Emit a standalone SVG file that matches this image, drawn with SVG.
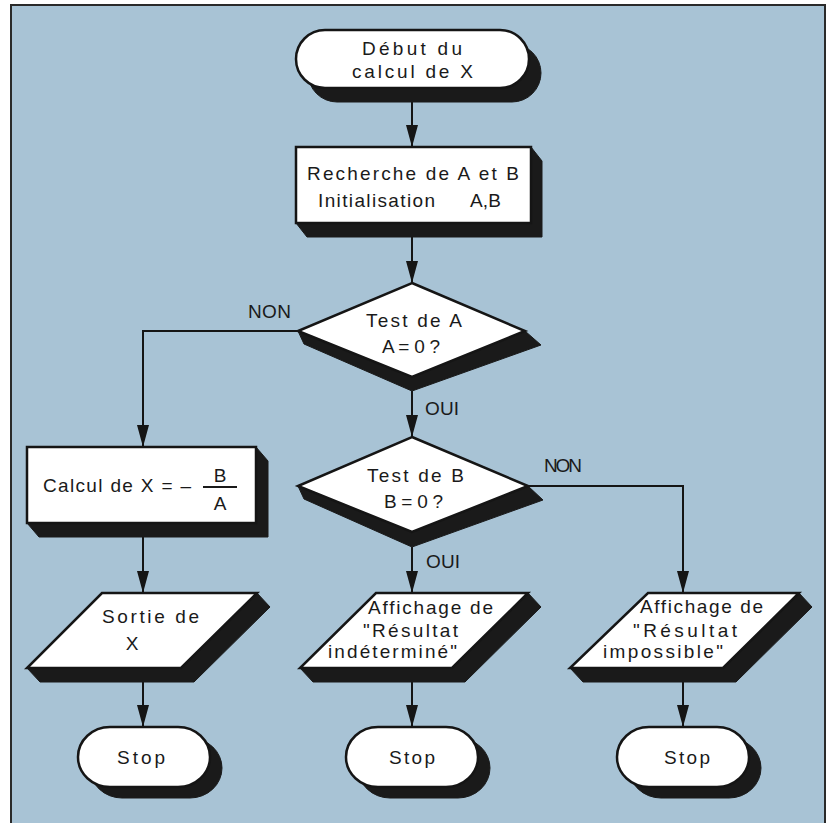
<svg xmlns="http://www.w3.org/2000/svg" width="832" height="823" viewBox="0 0 832 823">
<defs>
<style>
.nd{fill:#ffffff;stroke:#151515;stroke-width:2.5}
.sh{fill:#1a1a1a;stroke:#1a1a1a;stroke-width:1}
.t{font-family:"Liberation Sans",Arial,sans-serif;font-size:19px;fill:#1a1a1a}
.c{fill:none;stroke:#151515;stroke-width:2}
</style>
<marker id="ah" markerWidth="22" markerHeight="12" refX="22" refY="6" orient="auto" markerUnits="userSpaceOnUse">
<path d="M0,0 L22,6 L0,12 z" fill="#151515"/>
</marker>
</defs>
<rect x="0" y="0" width="832" height="823" fill="#ffffff"/>
<rect x="11" y="5" width="814" height="830" fill="#a8c3d5" stroke="#2a2a2a" stroke-width="2"/>

<g id="connectors">
<path class="c" d="M412,102 V147" marker-end="url(#ah)"/>
<path class="c" d="M412,237 V283" marker-end="url(#ah)"/>
<path class="c" d="M298,331 H143 V447" marker-end="url(#ah)"/>
<path class="c" d="M412,391 V437" marker-end="url(#ah)"/>
<path class="c" d="M143,537 V593" marker-end="url(#ah)"/>
<path class="c" d="M412,547 V593" marker-end="url(#ah)"/>
<path class="c" d="M528,486 H683 V593" marker-end="url(#ah)"/>
<path class="c" d="M143,682 V727" marker-end="url(#ah)"/>
<path class="c" d="M412,682 V727" marker-end="url(#ah)"/>
<path class="c" d="M683,682 V727" marker-end="url(#ah)"/>
<text class="t" x="248" y="318" textLength="43" lengthAdjust="spacing">NON</text>
<text class="t" x="425" y="415" textLength="34" lengthAdjust="spacing">OUI</text>
<text class="t" x="544" y="472" textLength="38" lengthAdjust="spacing">NON</text>
<text class="t" x="426" y="568" textLength="34" lengthAdjust="spacing">OUI</text>
</g>

<g id="start">
<rect class="sh" x="308" y="44" width="233" height="58" rx="29"/>
<rect class="nd" x="296" y="30" width="233" height="58" rx="29"/>
<text class="t" x="362" y="55" textLength="100" lengthAdjust="spacing">Début du</text>
<text class="t" x="352" y="78" textLength="121" lengthAdjust="spacing">calcul de X</text>
</g>

<g id="recherche">
<polygon class="sh" points="531,147 542,161 542,237 307,237 296,223"/>
<rect class="nd" x="296" y="147" width="235" height="76"/>
<text class="t" x="307" y="180" textLength="212" lengthAdjust="spacing">Recherche de A et B</text>
<text class="t" x="318" y="207" textLength="117" lengthAdjust="spacing">Initialisation</text>
<text class="t" x="470" y="207" textLength="31" lengthAdjust="spacing">A,B</text>
</g>

<g id="testA">
<polygon class="sh" points="298,331 304,344 412,391 541,345 525,331"/>
<polygon class="nd" points="412,283 525,331 412,377 298,331"/>
<text class="t" x="366" y="327" textLength="96" lengthAdjust="spacing">Test de A</text>
<text class="t" x="382" y="353" textLength="58" lengthAdjust="spacing">A = 0 ?</text>
</g>

<g id="testB">
<polygon class="sh" points="298,486 304,499 412,547 543,500 528,486"/>
<polygon class="nd" points="412,437 528,486 412,532 298,486"/>
<text class="t" x="367" y="482" textLength="97" lengthAdjust="spacing">Test de B</text>
<text class="t" x="384" y="508" textLength="59" lengthAdjust="spacing">B = 0 ?</text>
</g>

<g id="calcul">
<polygon class="sh" points="256,447 268,461 268,537 39,537 27,523"/>
<rect class="nd" x="27" y="447" width="229" height="76"/>
<text class="t" x="43" y="492" textLength="148" lengthAdjust="spacing">Calcul de X = –</text>
<text class="t" x="220" y="482" text-anchor="middle">B</text>
<line x1="203" y1="487" x2="237" y2="487" stroke="#1a1a1a" stroke-width="1.8"/>
<text class="t" x="220" y="510" text-anchor="middle">A</text>
</g>

<g id="sortie">
<polygon class="sh" points="257,593 270,607 194,682 40,682 27,668"/>
<polygon class="nd" points="102,593 257,593 181,668 27,668"/>
<text class="t" x="102" y="623" textLength="97" lengthAdjust="spacing">Sortie de</text>
<text class="t" x="132" y="650" text-anchor="middle">X</text>
</g>

<g id="indetermine">
<polygon class="sh" points="528,593 541,607 465,682 313,682 300,668"/>
<polygon class="nd" points="376,593 528,593 452,668 300,668"/>
<text class="t" x="368" y="614" textLength="125" lengthAdjust="spacing">Affichage de</text>
<text class="t" x="363" y="637" textLength="95" lengthAdjust="spacing">"Résultat</text>
<text class="t" x="328" y="658" textLength="129" lengthAdjust="spacing">indéterminé"</text>
</g>

<g id="impossible">
<polygon class="sh" points="799,593 812,607 736,682 583,682 570,668"/>
<polygon class="nd" points="648,593 799,593 723,668 570,668"/>
<text class="t" x="640" y="613" textLength="123" lengthAdjust="spacing">Affichage de</text>
<text class="t" x="633" y="637" textLength="104" lengthAdjust="spacing">"Résultat</text>
<text class="t" x="603" y="658" textLength="120" lengthAdjust="spacing">impossible"</text>
</g>

<g id="stop1">
<rect class="sh" x="90" y="738" width="132" height="60" rx="32" ry="30"/>
<rect class="nd" x="78" y="727" width="132" height="60" rx="32" ry="30"/>
<text class="t" x="117" y="764" textLength="48" lengthAdjust="spacing">Stop</text>
</g>
<g id="stop2">
<rect class="sh" x="358" y="738" width="132" height="60" rx="32" ry="30"/>
<rect class="nd" x="346" y="727" width="132" height="60" rx="32" ry="30"/>
<text class="t" x="389" y="764" textLength="46" lengthAdjust="spacing">Stop</text>
</g>
<g id="stop3">
<rect class="sh" x="629" y="738" width="132" height="60" rx="32" ry="30"/>
<rect class="nd" x="617" y="727" width="132" height="60" rx="32" ry="30"/>
<text class="t" x="664" y="764" textLength="46" lengthAdjust="spacing">Stop</text>
</g>
</svg>
